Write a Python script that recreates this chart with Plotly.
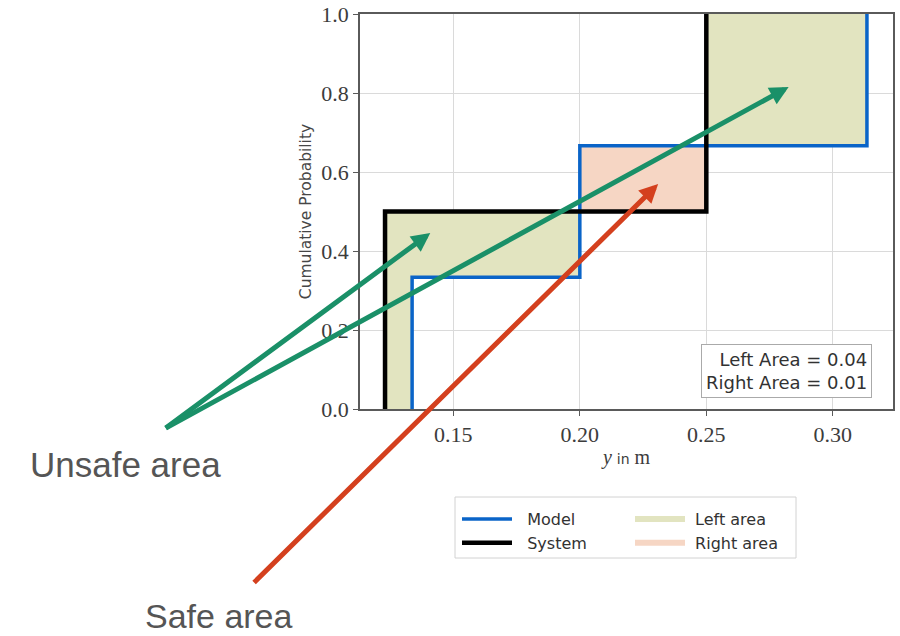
import numpy as np
import plotly.graph_objects as go

# ---- data ----
model_samples = [0.1337, 0.2000, 0.3135]     # model outputs (m)
system_samples = [0.1230, 0.2500]            # system observations (m)
x_ticks = [0.15, 0.20, 0.25, 0.30]
y_ticks = [0.0, 0.2, 0.4, 0.6, 0.8, 1.0]
left_area_value = 0.04
right_area_value = 0.01

X_RANGE = [0.1131, 0.3238]

def ecdf_path(samples):
    s = sorted(samples)
    n = len(s)
    xs, ys = [s[0]], [0.0]
    for i, v in enumerate(s):
        xs += [v, v]
        ys += [i / n, (i + 1) / n]
        if i + 1 < n:
            xs.append(s[i + 1]); ys.append((i + 1) / n)
    return xs[1:], ys[1:]

def ecdf_val(samples, x):
    return sum(1 for v in samples if v <= x) / len(samples)

mx, my = ecdf_path(model_samples)
sx, sy = ecdf_path(system_samples)

# build fill polygons between the two step functions
bps = sorted(set(model_samples + system_samples))
left_x, left_y, right_x, right_y = [], [], [], []
for a, b in zip(bps[:-1], bps[1:]):
    fm = ecdf_val(model_samples, a)
    fs = ecdf_val(system_samples, a)
    poly_x = [a, b, b, a, a, None]
    if fs > fm:
        left_x += poly_x; left_y += [fm, fm, fs, fs, fm, None]
    elif fm > fs:
        right_x += poly_x; right_y += [fs, fs, fm, fm, fs, None]

LEFT_COL = "rgb(226,228,192)"
RIGHT_COL = "rgb(246,214,196)"
BLUE = "rgb(10,100,200)"
GREEN = "rgb(26,144,104)"
RED = "rgb(212,64,30)"
NB = "\u00a0"

fig = go.Figure()
fig.add_trace(go.Scatter(x=left_x, y=left_y, fill="toself", fillcolor=LEFT_COL,
                         mode="none", name=NB + "Left area", hoverinfo="skip", legend="legend2"))
fig.add_trace(go.Scatter(x=right_x, y=right_y, fill="toself", fillcolor=RIGHT_COL,
                         mode="none", name=NB + "Right area", hoverinfo="skip", legend="legend2"))
fig.add_trace(go.Scatter(x=mx, y=my, mode="lines", name=NB * 2 + "Model",
                         line=dict(color=BLUE, width=3.5), legend="legend"))
fig.add_trace(go.Scatter(x=sx, y=sy, mode="lines", name=NB * 2 + "System",
                         line=dict(color="black", width=4.5), legend="legend"))

serif = "Liberation Serif, DejaVu Serif, serif"
sans = "DejaVu Sans, Liberation Sans, sans-serif"

fig.update_xaxes(range=X_RANGE, tickvals=x_ticks, ticktext=[f"{v:.2f}" for v in x_ticks],
                 showgrid=True, gridcolor="rgb(218,218,218)", gridwidth=1,
                 showline=True, linecolor="rgb(90,90,90)", linewidth=1.5, mirror=True,
                 ticks="outside", ticklen=5, tickcolor="rgb(90,90,90)",
                 tickfont=dict(family=serif, size=22, color="rgb(60,60,60)"),
                 zeroline=False, ticklabeloverflow="allow",
                 title=dict(text='<i>y</i> <span style="font-family:DejaVu Sans;font-size:14px">in</span> m',
                            font=dict(family=serif, size=20, color="rgb(60,60,60)"), standoff=4))
fig.update_yaxes(range=[0, 1], tickvals=y_ticks, ticktext=[f"{v:.1f}" for v in y_ticks],
                 showgrid=True, gridcolor="rgb(218,218,218)", gridwidth=1,
                 showline=True, linecolor="rgb(90,90,90)", linewidth=1.5, mirror=True,
                 ticks="outside", ticklen=5, tickcolor="rgb(90,90,90)",
                 tickfont=dict(family=serif, size=22, color="rgb(60,60,60)"),
                 zeroline=False, ticklabeloverflow="allow",
                 title=dict(text="Cumulative Probability",
                            font=dict(family=sans, size=15.5, color="rgb(70,70,70)"), standoff=6))

# plot area in screen pixels: x 360..893, y 14..409
def px_x(p):
    return (p - 360) / 533

def px_y(p):
    return (409 - p) / 395

annotations = [
    dict(xref="paper", yref="paper", x=px_x(872), y=px_y(398), xanchor="right", yanchor="bottom",
         text=f"Left Area = {left_area_value:.2f}<br>Right Area = {right_area_value:.2f}",
         align="right", showarrow=False, bgcolor="white", bordercolor="rgb(170,170,170)",
         borderwidth=1, borderpad=4, font=dict(family=sans, size=18, color="rgb(50,50,50)")),
    dict(xref="paper", yref="paper", x=px_x(125), y=px_y(464),
         text="Unsafe area", showarrow=False, xanchor="center", yanchor="middle",
         font=dict(family="Liberation Sans, Arial, sans-serif", size=35, color="rgb(85,85,85)")),
    dict(xref="paper", yref="paper", x=px_x(219), y=px_y(616),
         text="Safe area", showarrow=False, xanchor="center", yanchor="middle",
         font=dict(family="Liberation Sans, Arial, sans-serif", size=34, color="rgb(85,85,85)")),
]

def arrow(head_px, tail_px, color):
    hx = X_RANGE[0] + (head_px[0] - 360) / 2520
    hy = (409 - head_px[1]) / 395
    tx = X_RANGE[0] + (tail_px[0] - 360) / 2520
    ty = (409 - tail_px[1]) / 395
    return dict(x=hx, y=hy, ax=tx, ay=ty, xref="x", yref="y", axref="x", ayref="y",
                text="", showarrow=True, arrowhead=2, arrowsize=0.75, arrowwidth=5,
                arrowcolor=color)

annotations += [
    arrow((430, 233), (165, 429), GREEN),
    arrow((787, 87), (165, 429), GREEN),
    arrow((657, 184), (253, 584), RED),
]

shapes = [
    dict(type="rect", xref="paper", yref="paper",
         x0=px_x(455), x1=px_x(796), y0=px_y(497), y1=px_y(558),
         line=dict(color="rgb(210,210,210)", width=1), fillcolor="rgba(0,0,0,0)", layer="above"),
]

legend_common = dict(orientation="v", xanchor="left", yanchor="top",
                     borderwidth=0, bgcolor="rgba(0,0,0,0)",
                     font=dict(family=sans, size=16, color="rgb(50,50,50)"),
                     itemwidth=50, tracegroupgap=0)

fig.update_layout(
    width=900, height=636,
    margin=dict(l=360, r=7, t=14, b=227, autoexpand=False),
    paper_bgcolor="white", plot_bgcolor="white",
    annotations=annotations,
    shapes=shapes,
    showlegend=True,
    legend=dict(x=px_x(457), y=px_y(502), **legend_common),
    legend2=dict(x=px_x(630), y=px_y(502), **legend_common),
)

fig.write_html("out.html", config={"displayModeBar": False},
               post_script="document.body.style.margin='0px';")
